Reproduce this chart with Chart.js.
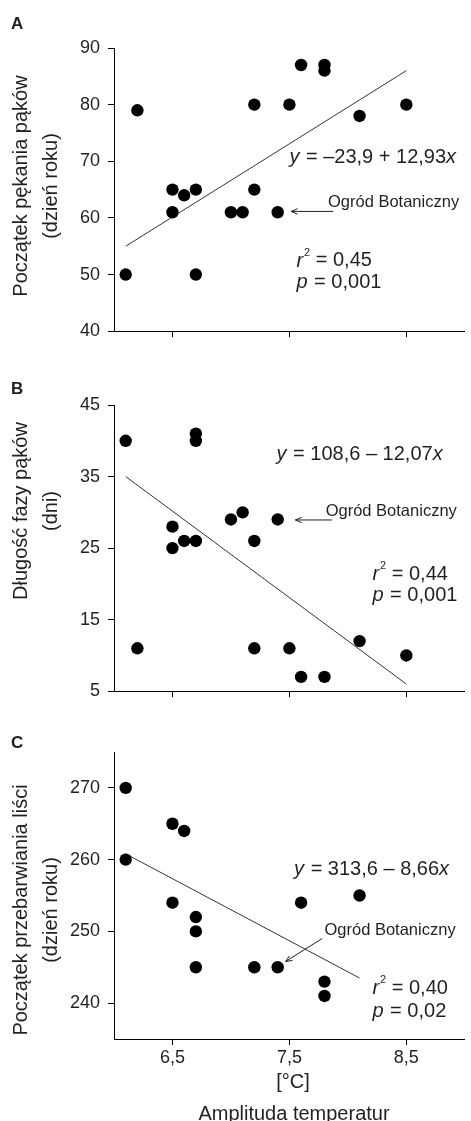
<!DOCTYPE html>
<html>
<head>
<meta charset="utf-8">
<script src="https://cdn.jsdelivr.net/npm/chart.js@4.4.1/dist/chart.umd.min.js"></script>
<style>
  body { margin: 0; background: #fff; width: 471px; height: 1121px; overflow: hidden; position: relative; }
  canvas { position: absolute; left: 0; }
</style>
</head>
<body>
<canvas id="chartA" width="471" height="350" style="top:0px"></canvas>
<canvas id="chartB" width="471" height="360" style="top:350px"></canvas>
<canvas id="chartC" width="471" height="411" style="top:710px"></canvas>
<script>
// Amplituda temperatur [°C] for each site (per panel)
const ampA = [6.1, 6.2, 6.5, 6.5, 6.6, 6.7, 6.7, 7.0, 7.1, 7.2, 7.2, 7.4, 7.5, 7.6, 7.8, 7.8, 8.1, 8.5];
const budBurst = [50, 79, 65, 61, 64, 65, 50, 61, 61, 80, 65, 61, 80, 87, 87, 86, 78, 80];

const ampB = [6.1, 6.2, 6.5, 6.5, 6.6, 6.7, 6.7, 6.7, 7.0, 7.1, 7.2, 7.2, 7.4, 7.5, 7.6, 7.8, 8.1, 8.5];
const budPhase = [40, 11, 28, 25, 26, 41, 40, 26, 29, 30, 26, 11, 29, 11, 7, 7, 12, 10];

const ampC = [6.1, 6.1, 6.5, 6.5, 6.6, 6.7, 6.7, 6.7, 7.2, 7.4, 7.6, 7.8, 7.8, 8.1];
const leafColour = [270, 260, 265, 254, 264, 252, 250, 245, 245, 245, 254, 243, 241, 255];

// regression line end points
const fitAx = [6.1, 8.5], fitAy = [55.0, 86.0];
const fitBx = [6.1, 8.5], fitBy = [35.0, 6.0];
const fitCx = [6.1, 8.1], fitCy = [260.8, 243.5];

// ticks
const xTicks = [6.5, 7.5, 8.5];
const yTicksA = [40, 50, 60, 70, 80, 90];
const yTicksB = [5, 15, 25, 35, 45];
const yTicksC = [240, 250, 260, 270];

const FONT = "'Liberation Sans', Arial, Helvetica, sans-serif";
const INK = '#231f20';

Chart.defaults.font.family = FONT;
Chart.defaults.color = INK;

function toPoints(xs, ys) {
    return xs.map((v, i) => ({ x: v, y: ys[i] }));
}

// draws text made of pieces (italic / superscript)
function richText(ctx, parts, x, y, size) {
    let cx = x;
    parts.forEach(p => {
        const fs = p.sup ? Math.round(size * 0.55) : size;
        ctx.font = (p.it ? 'italic ' : '') + fs + 'px ' + FONT;
        ctx.fillText(p.t, cx, p.sup ? y - size * 0.42 : y);
        cx += ctx.measureText(p.t).width + (p.it ? 1 : 0);
    });
}

function arrow(ctx, x1, y1, x2, y2) {
    const ang = Math.atan2(y2 - y1, x2 - x1);
    ctx.beginPath();
    ctx.moveTo(x1, y1);
    ctx.lineTo(x2, y2);
    ctx.moveTo(x2 - 7 * Math.cos(ang - 0.4), y2 - 7 * Math.sin(ang - 0.4));
    ctx.lineTo(x2, y2);
    ctx.lineTo(x2 - 7 * Math.cos(ang + 0.4), y2 - 7 * Math.sin(ang + 0.4));
    ctx.stroke();
}

// labels, equations and arrows for one panel
function notes(cfg) {
    return {
        id: 'notes',
        afterDraw(chart) {
            const ctx = chart.ctx;
            const x = chart.scales.x, y = chart.scales.y;
            ctx.save();
            ctx.fillStyle = INK;
            ctx.strokeStyle = INK;
            ctx.lineWidth = 1;

            // panel letter
            ctx.font = 'bold 17px ' + FONT;
            ctx.textAlign = 'left';
            ctx.textBaseline = 'middle';
            ctx.fillText(cfg.letter, 11, cfg.letterY);

            // y axis title (two lines, rotated)
            ctx.font = '20px ' + FONT;
            ctx.textAlign = 'center';
            ctx.textBaseline = 'alphabetic';
            cfg.yTitle.forEach((line, i) => {
                ctx.save();
                ctx.translate(i === 0 ? 27 : 57, cfg.yTitleY);
                ctx.rotate(-Math.PI / 2);
                ctx.fillText(line, 0, 0);
                ctx.restore();
            });

            // equation and statistics
            ctx.textAlign = 'left';
            ctx.textBaseline = 'middle';
            richText(ctx, cfg.eq, x.getPixelForValue(cfg.eqAt[0]), y.getPixelForValue(cfg.eqAt[1]), 20);
            richText(ctx, cfg.r2, x.getPixelForValue(cfg.statAt[0]), y.getPixelForValue(cfg.statAt[1]), 20);
            richText(ctx, cfg.p, x.getPixelForValue(cfg.statAt[0]), y.getPixelForValue(cfg.statAt[2]), 20);

            // Ogród Botaniczny with arrow
            ctx.font = '16.5px ' + FONT;
            ctx.fillText('Ogród Botaniczny', x.getPixelForValue(cfg.gardenAt[0]), y.getPixelForValue(cfg.gardenAt[1]));
            arrow(ctx,
                x.getPixelForValue(cfg.arrowFrom[0]), y.getPixelForValue(cfg.arrowFrom[1]),
                x.getPixelForValue(cfg.arrowTo[0]), y.getPixelForValue(cfg.arrowTo[1]));

            // x axis title only under the last panel
            if (cfg.xTitle) {
                ctx.font = '20px ' + FONT;
                ctx.textAlign = 'center';
                ctx.textBaseline = 'alphabetic';
                ctx.fillText('[°C]', 293, 378);
                ctx.fillText('Amplituda temperatur', 294, 410);
            }
            ctx.restore();
        }
    };
}

function makeChart(id, cfg) {
    const ctx = document.getElementById(id);
    const axisLine = { color: '#000', width: 1 };
    const tickMarks = { drawOnChartArea: false, drawTicks: true, tickLength: 6, color: '#000', lineWidth: 1 };

    new Chart(ctx, {
        type: 'scatter',
        data: {
            datasets: [{
                data: toPoints(cfg.xs, cfg.ys),
                backgroundColor: '#000',
                borderWidth: 0,
                pointRadius: 6.2,
                pointHoverRadius: 6.2
            }, {
                data: toPoints(cfg.fitX, cfg.fitY),
                showLine: true,
                borderColor: '#333',
                borderWidth: 1,
                pointRadius: 0,
                fill: false
            }]
        },
        options: {
            responsive: false,
            animation: false,
            layout: { padding: { top: cfg.padTop, left: 0, right: 0, bottom: 0 } },
            plugins: { legend: { display: false }, tooltip: { enabled: false } },
            scales: {
                x: {
                    type: 'linear',
                    min: 6, max: 9,
                    afterBuildTicks: s => { s.ticks = xTicks.map(v => ({ value: v })); },
                    afterFit: s => { s.height = cfg.xHeight; },
                    grid: tickMarks,
                    border: axisLine,
                    ticks: {
                        display: cfg.xLabels,
                        font: { size: 18 },
                        color: INK,
                        padding: 2,
                        maxRotation: 0,
                        autoSkip: false,
                        callback: v => String(v).replace('.', ',')
                    }
                },
                y: {
                    min: cfg.yMin, max: cfg.yMax,
                    afterBuildTicks: s => { s.ticks = cfg.yTicks.map(v => ({ value: v })); },
                    afterFit: s => { s.width = 114; },
                    grid: tickMarks,
                    border: axisLine,
                    ticks: { font: { size: 18 }, color: INK, padding: 8 }
                }
            }
        },
        plugins: [notes(cfg)]
    });
}

makeChart('chartA', {
    xs: ampA, ys: budBurst, fitX: fitAx, fitY: fitAy,
    yMin: 40, yMax: 90, yTicks: yTicksA,
    padTop: 48, xHeight: 16, xLabels: false,
    letter: 'A', letterY: 24,
    yTitle: ['Początek pękania pąków', '(dzień roku)'], yTitleY: 186,
    eq: [{ t: 'y', it: true }, { t: ' = –23,9 + 12,93' }, { t: 'x', it: true }], eqAt: [7.5, 70.6],
    r2: [{ t: 'r', it: true }, { t: '2', sup: true }, { t: ' = 0,45' }],
    p: [{ t: 'p', it: true }, { t: ' = 0,001' }], statAt: [7.56, 52.4, 48.6],
    gardenAt: [7.83, 62.7], arrowFrom: [7.875, 61.15], arrowTo: [7.515, 61.15]
});

makeChart('chartB', {
    xs: ampB, ys: budPhase, fitX: fitBx, fitY: fitBy,
    yMin: 5, yMax: 45, yTicks: yTicksB,
    padTop: 55, xHeight: 17, xLabels: false,
    letter: 'B', letterY: 39,
    yTitle: ['Długość fazy pąków', '(dni)'], yTitleY: 161,
    eq: [{ t: 'y', it: true }, { t: ' = 108,6 – 12,07' }, { t: 'x', it: true }], eqAt: [7.39, 38.06],
    r2: [{ t: 'r', it: true }, { t: '2', sup: true }, { t: ' = 0,44' }],
    p: [{ t: 'p', it: true }, { t: ' = 0,001' }], statAt: [8.21, 21.3, 18.4],
    gardenAt: [7.81, 30.18], arrowFrom: [7.864, 28.93], arrowTo: [7.551, 28.93]
});

makeChart('chartC', {
    xs: ampC, ys: leafColour, fitX: fitCx, fitY: fitCy,
    yMin: 235, yMax: 275, yTicks: yTicksC,
    padTop: 42, xHeight: 82, xLabels: true,
    letter: 'C', letterY: 33,
    yTitle: ['Początek przebarwiania liści', '(dzień roku)'], yTitleY: 200,
    eq: [{ t: 'y', it: true }, { t: ' = 313,6 – 8,66' }, { t: 'x', it: true }], eqAt: [7.54, 258.65],
    r2: [{ t: 'r', it: true }, { t: '2', sup: true }, { t: ' = 0,40' }],
    p: [{ t: 'p', it: true }, { t: ' = 0,02' }], statAt: [8.21, 242.0, 238.8],
    gardenAt: [7.8, 250.08], arrowFrom: [7.78, 249.0], arrowTo: [7.467, 245.8],
    xTitle: true
});
</script>
</body>
</html>
